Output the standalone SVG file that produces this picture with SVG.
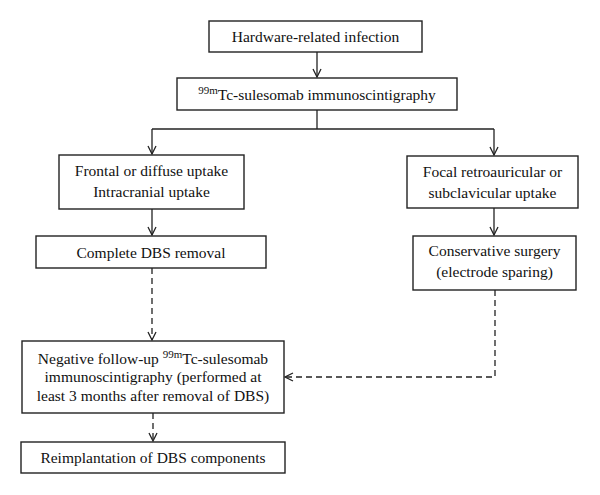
<svg xmlns="http://www.w3.org/2000/svg" width="600" height="495" viewBox="0 0 600 495">
<defs>
<marker id="arr" viewBox="0 0 10 10" refX="9" refY="5" markerWidth="10" markerHeight="10" markerUnits="userSpaceOnUse" orient="auto">
<path d="M1,1 L9,5 L1,9" fill="none" stroke="#222" stroke-width="1.3"/>
</marker>
<style>
.box{fill:#fff;stroke:#222;stroke-width:1.4}
.t{font-family:"Liberation Serif","Times New Roman",serif;font-size:15.5px;fill:#111;text-anchor:middle}
.sup{font-size:11px}
.c{fill:none;stroke:#222;stroke-width:1.3}
.d{stroke-dasharray:6,4}
</style>
</defs>
<rect width="600" height="495" fill="#fff"/>
<g id="connectors">
<path class="c" d="M317,52 V77" marker-end="url(#arr)"/>
<path class="c" d="M317,110 V129"/>
<path class="c" d="M152,129 H494"/>
<path class="c" d="M152,129 V154" marker-end="url(#arr)"/>
<path class="c" d="M494,129 V155" marker-end="url(#arr)"/>
<path class="c" d="M152,209 V235" marker-end="url(#arr)"/>
<path class="c" d="M494,208 V235" marker-end="url(#arr)"/>
<path class="c d" d="M152,268 V340" marker-end="url(#arr)"/>
<path class="c d" d="M495,290 V377 H285" marker-end="url(#arr)"/>
<path class="c d" d="M153,413 V441" marker-end="url(#arr)"/>
</g>
<g id="n1"><rect class="box" x="209" y="21" width="213" height="31"/>
<text class="t" x="315.5" y="42">Hardware-related infection</text></g>
<g id="n2"><rect class="box" x="177" y="78" width="280" height="32"/>
<text class="t" x="317" y="100"><tspan class="sup" dy="-6">99m</tspan><tspan dy="6">Tc-sulesomab immunoscintigraphy</tspan></text></g>
<g id="n3"><rect class="box" x="59" y="155" width="185" height="54"/>
<text class="t" x="151.5" y="176">Frontal or diffuse uptake</text>
<text class="t" x="151.5" y="197">Intracranial uptake</text></g>
<g id="n4"><rect class="box" x="36" y="236" width="230" height="32"/>
<text class="t" x="151" y="258">Complete DBS removal</text></g>
<g id="n5"><rect class="box" x="407" y="156" width="171" height="52"/>
<text class="t" x="492.5" y="177">Focal retroauricular or</text>
<text class="t" x="492.5" y="198">subclavicular uptake</text></g>
<g id="n6"><rect class="box" x="413" y="236" width="163" height="54"/>
<text class="t" x="494.5" y="256">Conservative surgery</text>
<text class="t" x="494.5" y="277">(electrode sparing)</text></g>
<g id="n7"><rect class="box" x="22" y="341" width="262" height="72"/>
<text class="t" x="153" y="364">Negative follow-up <tspan class="sup" dy="-6">99m</tspan><tspan dy="6">Tc-sulesomab</tspan></text>
<text class="t" x="153" y="382">immunoscintigraphy (performed at</text>
<text class="t" x="153" y="401">least 3 months after removal of DBS)</text></g>
<g id="n8"><rect class="box" x="21" y="442" width="264" height="31"/>
<text class="t" x="153" y="463">Reimplantation of DBS components</text></g>
</svg>
